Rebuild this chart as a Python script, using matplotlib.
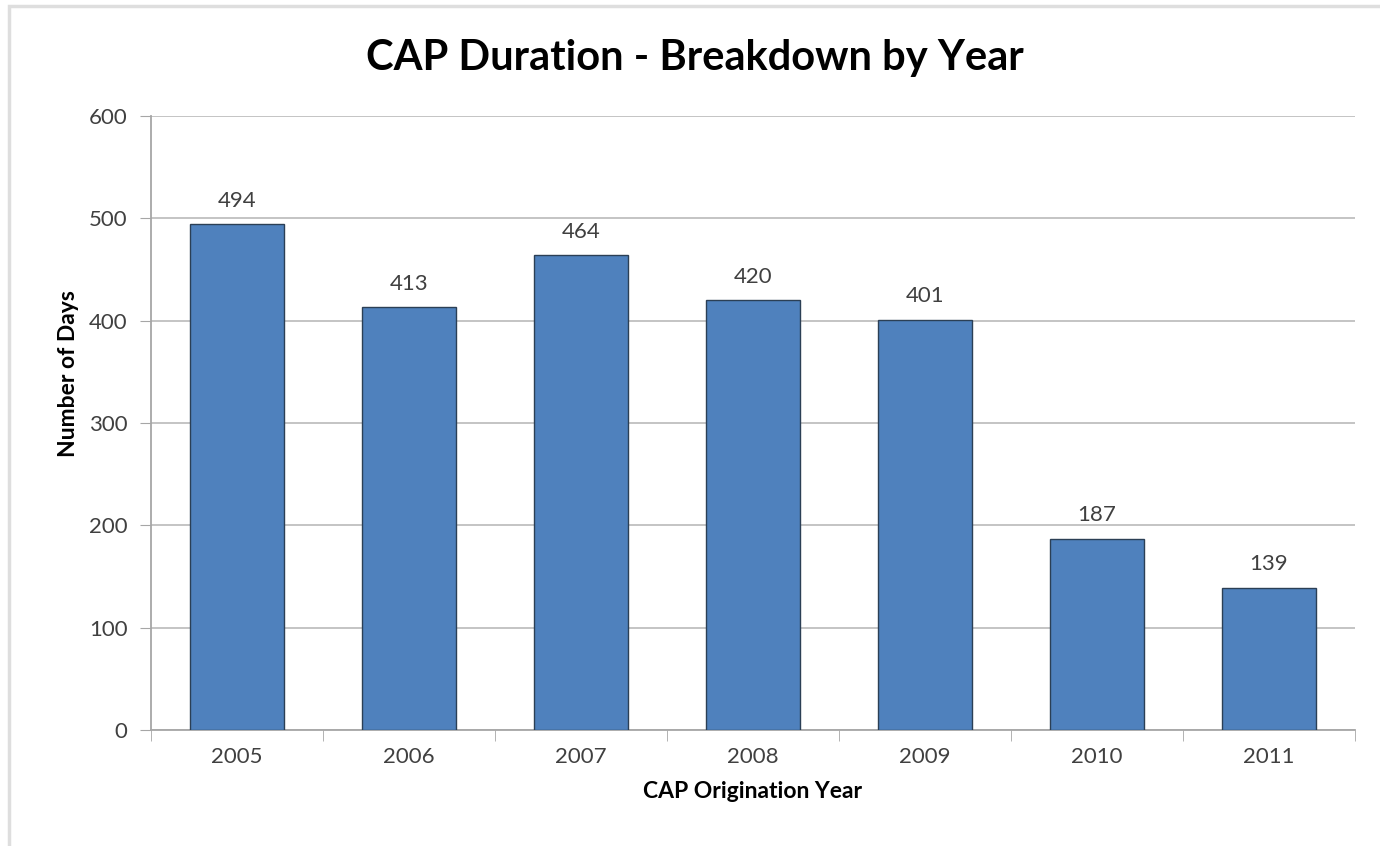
import matplotlib.pyplot as plt
from matplotlib.patches import Rectangle

# ---------- data ----------
years = ["2005", "2006", "2007", "2008", "2009", "2010", "2011"]
days = [494, 413, 464, 420, 401, 187, 139]
y_ticks = [0, 100, 200, 300, 400, 500, 600]

plt.rcParams['font.family'] = ['Lato', 'DejaVu Sans']

W, H = 1380, 846
fig = plt.figure(figsize=(W / 100, H / 100), dpi=100)
fig.patch.set_facecolor("white")

# light outer frame (chart area border)
fig.patches.append(Rectangle((9 / W, -0.05), 1.2, 1 - 6 / H + 0.05,
                             transform=fig.transFigure, fill=False,
                             edgecolor="#dedede", linewidth=2.5, zorder=0))

ax = fig.add_axes([151 / W, 1 - 730 / H, (1355 - 151) / W, (730 - 116) / H])

x = range(len(years))
bars = ax.bar(x, days, width=0.55, color="#4f81bd", edgecolor="#2b3f55",
              linewidth=1.0, zorder=3)

for xi, v in zip(x, days):
    ax.text(xi, v + 13, str(v), ha="center", va="bottom",
            fontsize=16, color="#404040")

ax.set_xlim(-0.5, len(years) - 0.5)
ax.set_ylim(0, 600)
ax.set_yticks(y_ticks)
ax.set_yticklabels([str(t) for t in y_ticks], fontsize=16, color="#404040")
ax.set_xticks(list(x))
ax.set_xticklabels(years, fontsize=16, color="#404040")
ax.tick_params(axis="x", length=0, pad=12)
ax.tick_params(axis="y", length=8, color="#a6a6a6", pad=9)

# category boundary ticks on x axis
ax.set_xticks([i - 0.5 for i in range(len(years) + 1)], minor=True)
ax.tick_params(axis="x", which="minor", length=8, color="#a6a6a6")

ax.grid(axis="y", color="#bfbfbf", linewidth=1.3, zorder=0)
ax.set_axisbelow(True)
for side in ["top", "right"]:
    ax.spines[side].set_visible(False)
for side in ["left", "bottom"]:
    ax.spines[side].set_color("#a6a6a6")
    ax.spines[side].set_linewidth(1.3)

ax.set_ylabel("Number of Days", fontsize=16.5, fontweight="bold", labelpad=10)
ax.yaxis.set_label_coords(-0.06, 0.58)
ax.set_xlabel("CAP Origination Year", fontsize=16.5, fontweight="bold", labelpad=10)

fig.text(695 / W, 1 - 58 / H, "CAP Duration - Breakdown by Year",
         ha="center", va="center", fontsize=30, fontweight="bold", color="black")

fig.savefig("out.png", dpi=100, facecolor="white")
